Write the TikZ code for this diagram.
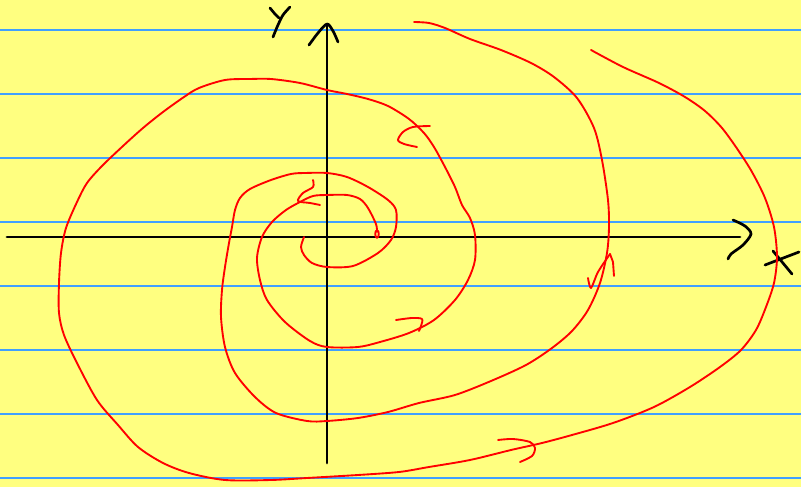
\documentclass[tikz,border=0pt]{standalone}
\usepackage{tikz}
\definecolor{padyellow}{RGB}{255,255,128}
\definecolor{ruleblue}{RGB}{64,160,255}
\begin{document}
\begin{tikzpicture}[x=0.03cm,y=-0.03cm,
  rule/.style={ruleblue,line width=1.1pt},
  axis/.style={black,line width=2.3pt,line cap=round,line join=round},
  spiral/.style={red,line width=1.6pt,line cap=round,line join=round},
  hook/.style={red,line width=1.6pt,line cap=round,line join=round}]
\fill[padyellow] (0,0) rectangle (801,487);
\useasboundingbox (0,0) rectangle (801,487);

\draw[rule] (0,30) -- (801,30);
\draw[rule] (0,94) -- (801,94);
\draw[rule] (0,158) -- (801,158);
\draw[rule] (0,222) -- (801,222);
\draw[rule] (0,286) -- (801,286);
\draw[rule] (0,350) -- (801,350);
\draw[rule] (0,414) -- (801,414);
\draw[rule] (0,478) -- (801,478);

\draw[axis] (7,237) -- (740,237);
\draw[axis] plot[smooth] coordinates {(733,220) (745,226) (751,234) (743,245) (731,254) (728,259)};
\draw[axis] (327,463) -- (327,25);
\draw[axis] plot[smooth] coordinates {(309,45) (318,33) (327,24) (333,31) (338,42)};
\draw[axis] plot[smooth] coordinates {(270,8) (275,14) (279,18)};
\draw[axis] plot[smooth] coordinates {(290,7) (283,15) (278,25) (273,37)};
\draw[axis] (765,265) -- (799,252);
\draw[axis] (773,251) -- (792,274);

\draw[spiral] (377,234) ellipse (1.8 and 3.8);
\draw[spiral] plot[smooth] coordinates {(377,232) (376,224) (368,208) (360,199) (347,195)
  (327,195) (313,196) (300,202) (286,210) (272,222) (262,237) (257,258) (260,280)
  (267,300) (285,322) (310,341) (327,347) (358,347) (380,342) (409,333) (434,320)
  (455,300) (468,280) (475,260) (475,235) (470,218) (462,205) (455,187) (445,167)
  (434,147) (424,133) (409,119) (388,106) (368,99) (347,94) (327,90) (300,83)
  (271,79) (250,79) (225,80) (199,88) (184,97) (163,112) (143,128) (123,146)
  (102,166) (87,183) (77,202) (66,228) (61,253) (59,283) (59,313) (64,335)
  (77,363) (97,400) (118,425) (138,447) (163,463) (189,473) (225,480) (271,480)
  (307,478) (358,475) (399,472) (429,467) (470,460) (511,450) (542,443) (572,435)
  (613,423) (654,407) (690,387) (720,367) (741,350) (756,330) (766,307) (774,283)
  (777,257) (774,227) (765,198) (752,172) (738,150) (722,128) (705,111) (685,97)
  (659,83) (623,67) (591,50)};

\draw[spiral] plot[smooth] coordinates {(304,237) (301,247) (304,255) (312,263) (327,267)
  (353,266) (378,253) (391,240) (396,227) (396,210) (388,200) (368,187) (347,177)
  (327,173) (305,173) (291,174) (271,180) (250,189) (240,198) (235,210) (232,227)
  (229,243) (225,267) (222,290) (221,317) (225,347) (235,373) (255,397) (276,413)
  (307,421) (327,421) (358,418) (388,412) (419,403) (455,395) (491,381) (526,365)
  (552,348) (572,331) (588,310) (600,283) (607,253) (609,227) (608,200) (602,160)
  (594,128) (577,98) (554,77) (531,63) (501,50) (470,39) (445,28) (429,23) (414,22)};

\draw[hook] plot[smooth] coordinates {(430,126) (413,127) (403,132) (398,140) (404,144) (417,147)};
\draw[hook] plot[smooth] coordinates {(313,180) (313,187) (303,193) (298,201) (310,203) (320,205)};
\draw[hook] plot[smooth] coordinates {(396,320) (412,318) (422,319) (421,326) (419,331)};
\draw[hook] plot[smooth] coordinates {(498,440) (513,439) (530,442) (535,448) (532,456) (520,462)};
\draw[hook] plot[smooth] coordinates {(588,278) (591,288) (598,272) (610,254)};
\draw[hook] (610,254) -- (613,262) -- (614,276);
\end{tikzpicture}
\end{document}
